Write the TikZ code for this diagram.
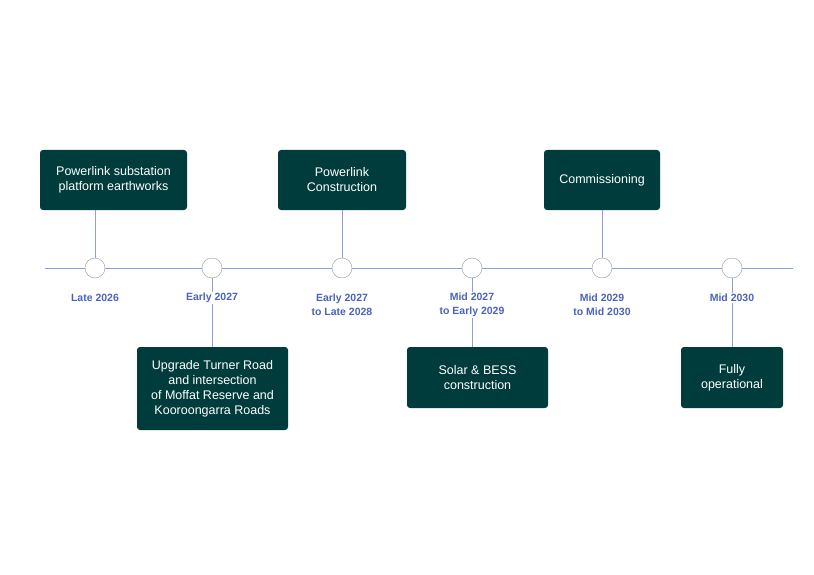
\documentclass[tikz,border=0pt]{standalone}
\usepackage{fontspec}
\setmainfont{Liberation Sans}
\definecolor{boxteal}{HTML}{003C3C}
\definecolor{lineblue}{HTML}{8C9FDC}
\definecolor{dateblue}{HTML}{4A63C0}
\tikzset{
  event/.style={fill=boxteal, rounded corners=3pt, text=white, align=center,
    font=\fontsize{12.5}{15}\selectfont, inner sep=0pt},
  stop/.style={circle, draw=gray!80, fill=white, minimum size=20pt, inner sep=0pt},
  date/.style={text=dateblue, font=\bfseries\fontsize{10.5}{14}\selectfont, align=center,
    fill=white, inner sep=1pt},
  link/.style={draw=lineblue, line width=0.7pt}
}
\begin{document}
\begin{tikzpicture}[x=1pt,y=-1pt]
\useasboundingbox (0,0) rectangle (814,575);
% axis
\coordinate (a0) at (45,268);
\coordinate (a1) at (793,268);
\draw [link] (a0) -- (a1);
% boxes above
\node [event, minimum width=147pt, minimum height=60pt] (e1) at (113.5,180) {Powerlink substation\\platform earthworks};
\node [event, minimum width=128pt, minimum height=60pt] (e3) at (342,180) {Powerlink\\Construction};
\node [event, minimum width=116pt, minimum height=60pt] (e5) at (602,180) {Commissioning};
% boxes below
\node [event, minimum width=151pt, minimum height=83pt] (e2) at (212.5,388.5) {Upgrade Turner Road\\and intersection\\of Moffat Reserve and\\Kooroongarra Roads};
\node [event, minimum width=141pt, minimum height=61pt] (e4) at (477.5,377.5) {Solar \& BESS\\construction};
\node [event, minimum width=102pt, minimum height=61pt] (e6) at (732,377.5) {Fully\\operational};
% links
\draw [link] (95,210) -- (95,268);
\draw [link] (342,210) -- (342,268);
\draw [link] (602,210) -- (602,268);
\draw [link] (212,268) -- (212,347);
\draw [link] (472,268) -- (472,347);
\draw [link] (732,268) -- (732,347);
% stops
\node [stop] (s1) at (95,268) {};
\node [stop] (s2) at (212,268) {};
\node [stop] (s3) at (342,268) {};
\node [stop] (s4) at (472,268) {};
\node [stop] (s5) at (602,268) {};
\node [stop] (s6) at (732,268) {};
% dates
\node [date] (d1) at (95,298) {Late 2026};
\node [date] (d2) at (212,298) {Early 2027};
\node [date] (d3) at (342,305) {Early 2027\\to Late 2028};
\node [date] (d4) at (472,305) {Mid 2027\\to Early 2029};
\node [date] (d5) at (602,305) {Mid 2029\\to Mid 2030};
\node [date] (d6) at (732,298) {Mid 2030};
\end{tikzpicture}
\end{document}
